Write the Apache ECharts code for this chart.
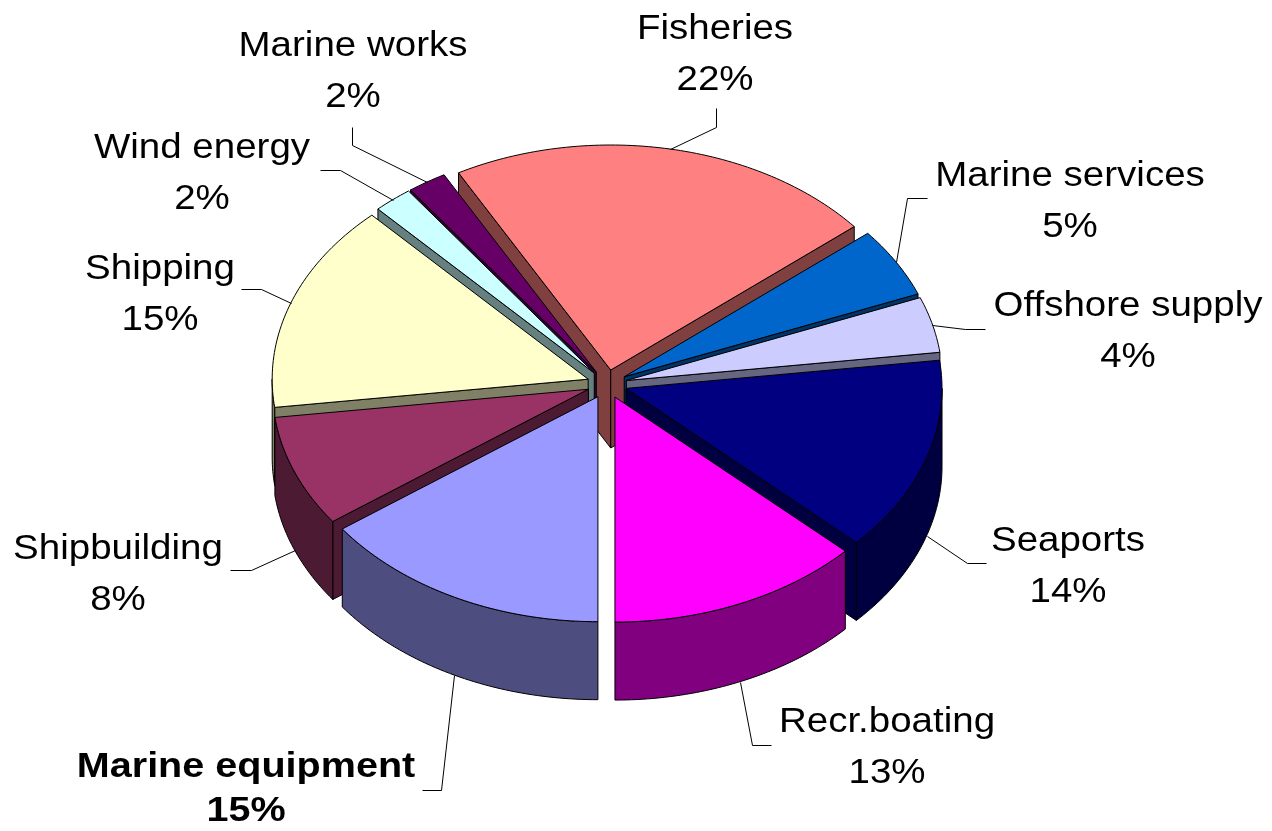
<!DOCTYPE html>
<html>
<head>
<meta charset="utf-8">
<title>Maritime sectors</title>
<script src="https://cdn.jsdelivr.net/npm/echarts/dist/echarts.min.js"></script>
<style>
html, body { margin: 0; padding: 0; background: #fff; }
#chart { width: 1272px; height: 831px; }
</style>
</head>
<body>
<div id="chart"></div>
<script>
var sectors = ['Fisheries', 'Marine services', 'Offshore supply', 'Seaports', 'Recr.boating',
    'Marine equipment', 'Shipbuilding', 'Shipping', 'Wind energy', 'Marine works'];
var shares = [22, 5, 4, 14, 13, 15, 8, 15, 2, 2];
var sliceColors = ['#FF8080', '#0066CC', '#CCCCFF', '#000080', '#FF00FF',
    '#9999FF', '#993366', '#FFFFCC', '#CCFFFF', '#660066'];

// label layout: text centre, leader start, leader elbow
var labelAt = [[715, 55], [1070, 202], [1128, 332], [1068, 567], [887, 748],
    [246, 789], [118, 575], [160, 295], [202, 174], [353, 72]];
var leaderFrom = [[716, 108], [927, 198], [985, 329], [986, 563], [771, 745],
    [422, 790], [230, 570], [241, 289], [320, 170], [352, 127]];
var leaderElbow = [[716, 127], [907, 198], [965, 329], [967, 563], [752, 745],
    [441, 790], [251, 570], [261, 289], [340, 170], [352, 145]];
var boldIndex = 5;

// 3d pie geometry (excel style, tilted and exploded)
var pie = { cx: 607, cy: 384, rx: 316, ry: 225, depth: 78, explode: 20, startDeg: -28.8 };

var total = shares.reduce(function (s, v) { return s + v; }, 0);

function darker(hex) {
    var n = parseInt(hex.slice(1), 16);
    var r = (n >> 16) & 255, g = (n >> 8) & 255, b = n & 255;
    return 'rgb(' + Math.round(r * 0.5) + ',' + Math.round(g * 0.5) + ',' + Math.round(b * 0.5) + ')';
}

function pt(t, ox, oy, down) {
    return [pie.cx + ox + pie.rx * Math.sin(t), pie.cy + oy - pie.ry * Math.cos(t) + (down ? pie.depth : 0)];
}

function arc(t0, t1, ox, oy, down) {
    var n = Math.max(2, Math.ceil(Math.abs(t1 - t0) / (Math.PI / 180)));
    var pts = [];
    for (var i = 0; i <= n; i++) {
        pts.push(pt(t0 + (t1 - t0) * i / n, ox, oy, down));
    }
    return pts;
}

function face(points, fill, z2) {
    return {
        type: 'polygon',
        shape: { points: points },
        style: { fill: fill, stroke: '#000', lineWidth: 1, lineJoin: 'round' },
        z2: z2
    };
}

function renderSlice(params, api) {
    var idx = params.dataIndex;
    var before = 0;
    for (var i = 0; i < idx; i++) before += shares[i];
    var value = api.value(0);
    var ts = (pie.startDeg * Math.PI / 180) + before / total * Math.PI * 2;
    var te = ts + value / total * Math.PI * 2;
    var mid = (ts + te) / 2;
    var ox = pie.explode * Math.sin(mid);
    var oy = -pie.explode * (pie.ry / pie.rx) * Math.cos(mid);
    var apexTop = [pie.cx + ox, pie.cy + oy];
    var apexBot = [pie.cx + ox, pie.cy + oy + pie.depth];
    var color = sliceColors[idx];
    var side = darker(color);
    var zWall = 100 + Math.round((1 - Math.cos(mid)) * 100);
    var children = [];

    // radial face at start edge
    if (Math.cos(ts - Math.PI / 2) < -1e-6) {
        children.push(face([apexTop, pt(ts, ox, oy, false), pt(ts, ox, oy, true), apexBot], side, zWall));
    }
    // radial face at end edge
    if (Math.cos(te + Math.PI / 2) < -1e-6) {
        children.push(face([apexTop, pt(te, ox, oy, false), pt(te, ox, oy, true), apexBot], side, zWall));
    }
    // outer curved wall, front half only
    var lo = Math.max(ts, Math.PI / 2), hi = Math.min(te, Math.PI * 1.5);
    if (lo < hi) {
        var wall = arc(lo, hi, ox, oy, false).concat(arc(hi, lo, ox, oy, true));
        children.push(face(wall, side, zWall));
    }
    // top face
    children.push(face([apexTop].concat(arc(ts, te, ox, oy, false)), color, 1000));

    // leader line, ends on the rim (bottom rim for front slices)
    var front = Math.cos(mid) < 0;
    var end = pt(mid, ox, oy, front);
    children.push({
        type: 'polyline',
        x: 0.5,
        y: 0.5,
        shape: { points: [leaderFrom[idx], leaderElbow[idx], [Math.round(end[0]), Math.round(end[1])]] },
        style: { stroke: '#000', lineWidth: 1, fill: null },
        z2: 2000
    });

    // label
    var bold = idx === boldIndex;
    children.push({
        type: 'text',
        x: labelAt[idx][0],
        y: labelAt[idx][1],
        scaleX: bold ? 1.13 : 1.1,
        style: {
            text: sectors[idx] + '\n' + value + '%',
            fill: '#000',
            fontSize: 35,
            fontWeight: bold ? 'bold' : 'normal',
            fontFamily: '"Liberation Sans", Arial, sans-serif',
            align: 'center',
            verticalAlign: 'middle',
            lineHeight: bold ? 44 : 51
        },
        z2: 2000
    });

    return { type: 'group', children: children };
}

var chart = echarts.init(document.getElementById('chart'));
chart.setOption({
    backgroundColor: '#fff',
    animation: false,
    series: [{
        type: 'custom',
        coordinateSystem: 'none',
        clip: false,
        renderItem: renderSlice,
        data: shares.map(function (v, i) { return { name: sectors[i], value: [v] }; })
    }]
});
window.addEventListener('resize', function () { chart.resize(); });
</script>
</body>
</html>
